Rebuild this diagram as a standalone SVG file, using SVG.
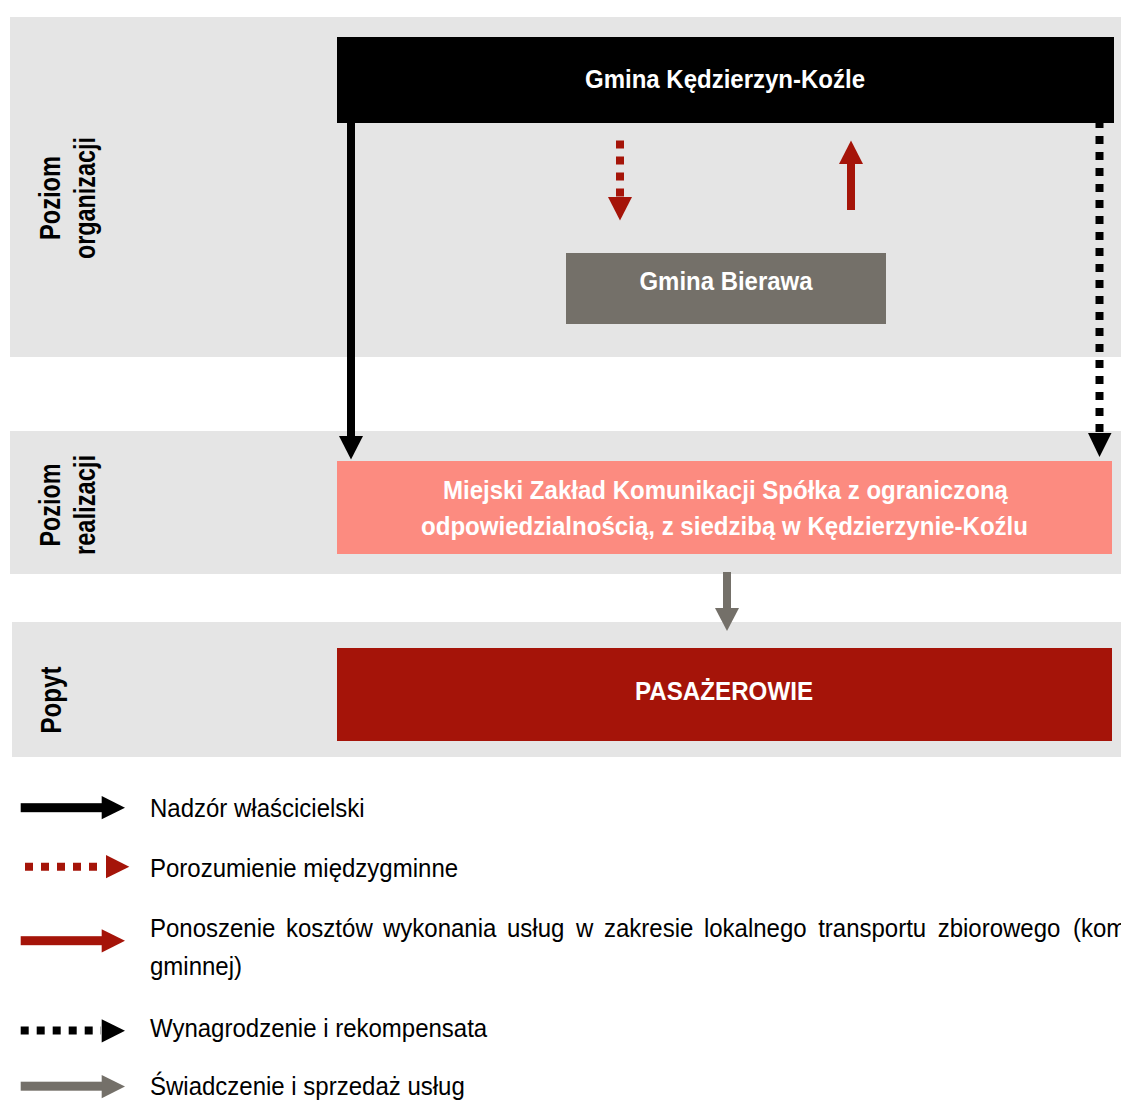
<svg xmlns="http://www.w3.org/2000/svg" width="1121" height="1100" viewBox="0 0 1121 1100">
<style>
  .band { fill: #e5e5e5; }
  .side { font-family: "Liberation Sans", Arial, sans-serif; font-weight: bold; font-size: 30px; fill: #000; text-anchor: middle; }
  .boxt { font-family: "Liberation Sans", Arial, sans-serif; font-weight: bold; font-size: 25px; fill: #fff; text-anchor: middle; }
  .leg { font-family: "Liberation Sans", Arial, sans-serif; font-size: 25px; fill: #000; }
  .black { fill: #000; }
  .red { fill: #a51409; }
  .gray { fill: #747069; }
  .dotBlack { stroke: #000; stroke-width: 8; stroke-dasharray: 8 8; fill: none; }
  .dotRed { stroke: #a51409; stroke-width: 8; stroke-dasharray: 8 8; fill: none; }
</style>

<g id="bands">
  <rect class="band" x="10" y="17" width="1111" height="340"/>
  <rect class="band" x="10" y="431" width="1111" height="143"/>
  <rect class="band" x="12" y="622" width="1109" height="135"/>
</g>

<g id="side-labels">
  <text class="side" transform="translate(60 198) rotate(-90)" textLength="84" lengthAdjust="spacingAndGlyphs">Poziom</text>
  <text class="side" transform="translate(94.5 198) rotate(-90)" textLength="122" lengthAdjust="spacingAndGlyphs">organizacji</text>
  <text class="side" transform="translate(60 505) rotate(-90)" textLength="83" lengthAdjust="spacingAndGlyphs">Poziom</text>
  <text class="side" transform="translate(94.5 505) rotate(-90)" textLength="100" lengthAdjust="spacingAndGlyphs">realizacji</text>
  <text class="side" transform="translate(60.5 700) rotate(-90)" textLength="67" lengthAdjust="spacingAndGlyphs">Popyt</text>
</g>

<g id="node-gmina-kk">
  <rect x="337" y="37" width="777" height="86" fill="#000"/>
  <text class="boxt" x="725" y="87.5" textLength="280" lengthAdjust="spacingAndGlyphs">Gmina Kędzierzyn-Koźle</text>
</g>

<g id="node-gmina-bierawa">
  <rect x="566" y="253" width="320" height="71" fill="#747069"/>
  <text class="boxt" x="726" y="290" textLength="173" lengthAdjust="spacingAndGlyphs">Gmina Bierawa</text>
</g>

<g id="node-mzk">
  <rect x="337" y="461" width="775" height="93" fill="#fc8b80"/>
  <text class="boxt" x="725.5" y="498.5" textLength="565" lengthAdjust="spacingAndGlyphs">Miejski Zakład Komunikacji Spółka z ograniczoną</text>
  <text class="boxt" x="724.5" y="534.5" textLength="607" lengthAdjust="spacingAndGlyphs">odpowiedzialnością, z siedzibą w Kędzierzynie-Koźlu</text>
</g>

<g id="node-pasazerowie">
  <rect x="337" y="648" width="775" height="93" fill="#a51409"/>
  <text class="boxt" x="724" y="700" textLength="178" lengthAdjust="spacingAndGlyphs">PASAŻEROWIE</text>
</g>

<g id="connectors">
  <!-- Nadzór właścicielski: KK -> MZK -->
  <rect class="black" x="347" y="123" width="8" height="314"/>
  <polygon class="black" points="339,436 363,436 351,459.5"/>
  <!-- Wynagrodzenie i rekompensata: KK -> MZK -->
  <line class="dotBlack" x1="1099.5" y1="120" x2="1099.5" y2="432"/>
  <polygon class="black" points="1088,433 1111.5,433 1099.5,457"/>
  <!-- Porozumienie międzygminne: KK -> Bierawa -->
  <line class="dotRed" x1="620" y1="140.5" x2="620" y2="196.5"/>
  <polygon class="red" points="608,197 632,197 620,220.5"/>
  <!-- Ponoszenie kosztów: Bierawa -> KK -->
  <rect class="red" x="847" y="163" width="8" height="47"/>
  <polygon class="red" points="839,164 863,164 851,140.5"/>
  <!-- Świadczenie i sprzedaż usług: MZK -> Pasażerowie -->
  <rect class="gray" x="723" y="572" width="8" height="37"/>
  <polygon class="gray" points="715,608 739,608 727,631"/>
</g>

<g id="legend">
  <rect class="black" x="20.7" y="803.2" width="81.5" height="9"/>
  <polygon class="black" points="101.7,796 125,807.7 101.7,819.3"/>

  <line class="dotRed" x1="25" y1="866.7" x2="98" y2="866.7" stroke-dasharray="7.7 8.6"/>
  <polygon class="red" points="106,855 129.3,866.7 106,878.3"/>

  <rect class="red" x="20.7" y="936.2" width="81.5" height="9"/>
  <polygon class="red" points="101.7,929.3 125,940.7 101.7,952.5"/>

  <line class="dotBlack" x1="20.7" y1="1030.5" x2="101" y2="1030.5" stroke-dasharray="7.7 8.9"/>
  <polygon class="black" points="101.7,1019.3 125,1030.7 101.7,1042.5"/>

  <rect class="gray" x="20.7" y="1081.7" width="81.5" height="9"/>
  <polygon class="gray" points="101.7,1075 125,1086.5 101.7,1098.2"/>

  <g transform="matrix(0.96 0 0 1 6 0)">
    <text class="leg" x="150" y="817">Nadzór właścicielski</text>
    <text class="leg" x="150" y="876.7">Porozumienie międzygminne</text>
    <text class="leg" y="937"><tspan x="150">Ponoszenie</tspan><tspan x="291.7">kosztów</tspan><tspan x="392.7">wykonania</tspan><tspan x="521.9">usług</tspan><tspan x="593.8">w</tspan><tspan x="622.9">zakresie</tspan><tspan x="727">lokalnego</tspan><tspan x="846">transportu</tspan><tspan x="970.5">zbiorowego</tspan><tspan x="1111.5">(kom</tspan></text>
    <text class="leg" x="150" y="975.5">gminnej)</text>
    <text class="leg" x="150" y="1036.7">Wynagrodzenie i rekompensata</text>
    <text class="leg" x="150" y="1095">Świadczenie i sprzedaż usług</text>
  </g>
</g>
</svg>
